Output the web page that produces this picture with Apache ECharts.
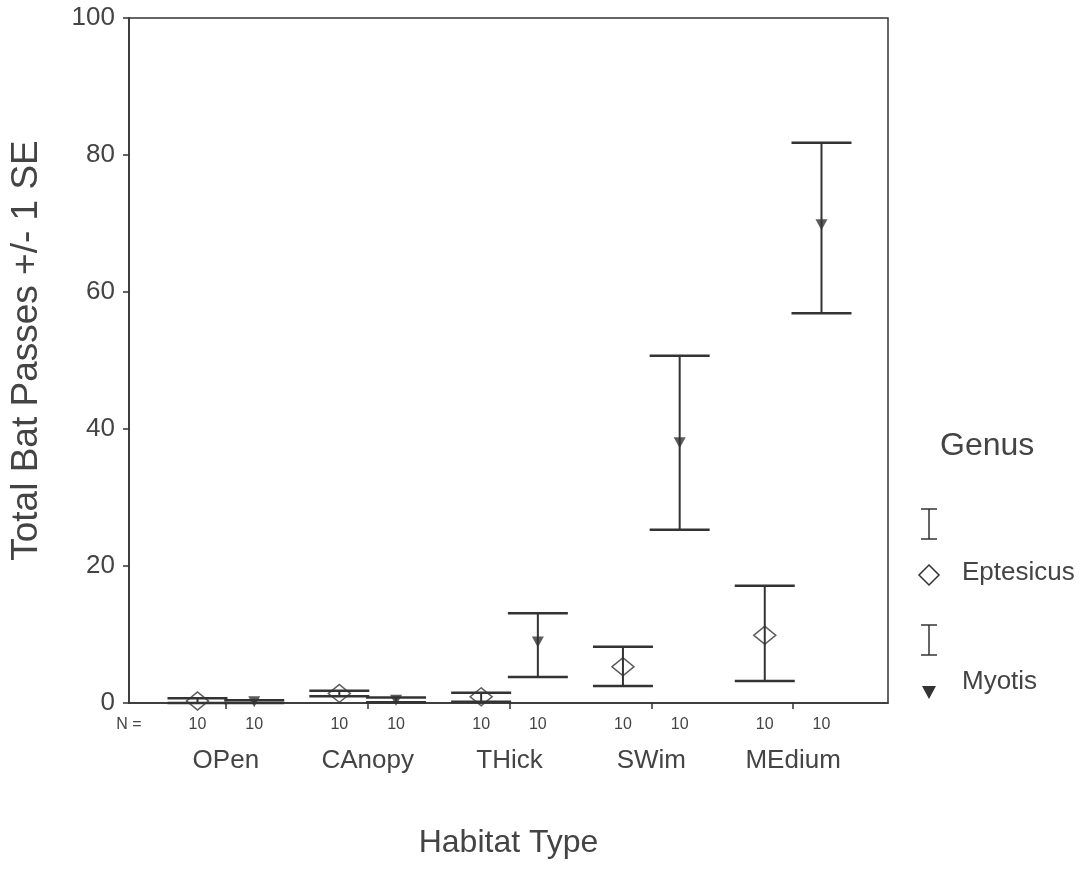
<!DOCTYPE html>
<html>
<head>
<meta charset="utf-8">
<script src="https://cdn.jsdelivr.net/npm/echarts@6/dist/echarts.min.js"></script>
<style>
html,body{margin:0;padding:0;background:#fff;}
#chart{width:1087px;height:869px;}
</style>
</head>
<body>
<div id="chart"></div>
<script>
const categories = ['OPen', 'CAnopy', 'THick', 'SWim', 'MEdium'];
const eptMean = [0.3, 1.4, 0.9, 5.3, 9.9];
const eptLow  = [0.0, 1.0, 0.2, 2.5, 3.2];
const eptHigh = [0.7, 1.8, 1.5, 8.2, 17.1];
const myoMean = [0.2, 0.4, 8.9, 38.0, 69.8];
const myoLow  = [0.0, 0.1, 3.8, 25.3, 56.9];
const myoHigh = [0.4, 0.8, 13.1, 50.7, 81.8];
const nEpt = [10, 10, 10, 10, 10];
const nMyo = [10, 10, 10, 10, 10];
const nLabel = 'N =';
const yTicks = [0, 20, 40, 60, 80, 100];

const FONT = "'Liberation Sans', Arial, sans-serif";
const TXT = '#444';
const LINE = '#333';
const OFF = 0.2;
const XMIN = -0.683, XMAX = 4.669;

const catIdx = categories.map((c, i) => i);
const eptX = catIdx.map(i => i - OFF);
const myoX = catIdx.map(i => i + OFF);

const eptErr = catIdx.map(i => [eptX[i], eptLow[i], eptHigh[i]]);
const myoErr = catIdx.map(i => [myoX[i], myoLow[i], myoHigh[i]]);
const eptPts = catIdx.map(i => [eptX[i], eptMean[i]]);
const myoPts = catIdx.map(i => [myoX[i], myoMean[i]]);

// N labels
const nPos = [XMIN];
const nTxt = [nLabel];
catIdx.forEach(i => { nPos.push(eptX[i]); nTxt.push(String(nEpt[i])); nPos.push(myoX[i]); nTxt.push(String(nMyo[i])); });

function errRender(params, api) {
  const x = api.value(0), lo = api.value(1), hi = api.value(2);
  const pLo = api.coord([x, lo]);
  const pHi = api.coord([x, hi]);
  const hw = 30;
  const s = { stroke: LINE, lineWidth: 2 };
  const c = { stroke: LINE, lineWidth: 2.5 };
  return {
    type: 'group',
    children: [
      { type: 'line', shape: { x1: pHi[0], y1: pHi[1], x2: pLo[0], y2: pLo[1] }, style: s },
      { type: 'line', shape: { x1: pHi[0] - hw, y1: pHi[1], x2: pHi[0] + hw, y2: pHi[1] }, style: c },
      { type: 'line', shape: { x1: pLo[0] - hw, y1: pLo[1], x2: pLo[0] + hw, y2: pLo[1] }, style: c }
    ]
  };
}

const chart = echarts.init(document.getElementById('chart'), null, { renderer: 'canvas' });

const legendStroke = { stroke: LINE, lineWidth: 1.5, fill: null };
const option = {
  backgroundColor: '#fff',
  animation: false,
  textStyle: { fontFamily: FONT },
  grid: { left: 128, right: 199, top: 18, bottom: 166, show: true, borderColor: LINE, borderWidth: 1.5 },
  xAxis: [
    {
      type: 'value', min: XMIN, max: XMAX, position: 'bottom',
      axisLine: { show: true, onZero: false, lineStyle: { color: LINE, width: 1.5 } },
      axisTick: { show: true, customValues: catIdx, length: 6, lineStyle: { color: LINE, width: 1.5 } },
      axisLabel: { customValues: catIdx, formatter: v => categories[Math.round(v)], margin: 45, fontSize: 26, color: TXT, fontFamily: FONT },
      splitLine: { show: false },
      name: 'Habitat Type', nameLocation: 'middle', nameGap: 124,
      nameTextStyle: { fontSize: 32, color: TXT, fontFamily: FONT }
    },
    {
      type: 'value', min: XMIN, max: XMAX, position: 'bottom',
      axisLine: { show: false, onZero: false },
      axisTick: { show: false },
      axisLabel: {
        customValues: nPos,
        formatter: v => { const k = nPos.findIndex(p => Math.abs(p - v) < 1e-6); return k >= 0 ? nTxt[k] : ''; },
        margin: 14, fontSize: 16, color: TXT, fontFamily: FONT
      },
      splitLine: { show: false }
    }
  ],
  yAxis: {
    type: 'value', min: yTicks[0], max: yTicks[yTicks.length - 1], interval: 20, position: 'left',
    axisLine: { show: true, onZero: false, lineStyle: { color: LINE, width: 1.5 } },
    axisTick: { show: true, length: 6, lineStyle: { color: LINE, width: 1.5 } },
    axisLabel: { fontSize: 26, color: TXT, margin: 14, fontFamily: FONT },
    splitLine: { show: false },
    name: 'Total Bat Passes +/- 1 SE', nameLocation: 'middle', nameGap: 84,
    nameTextStyle: { fontSize: 37, color: TXT, fontFamily: FONT, padding: [0, 0, 0, 20] }
  },
  series: [
    { name: 'Eptesicus SE', type: 'custom', renderItem: errRender, data: eptErr, encode: { x: 0, y: [1, 2] }, z: 2 },
    { name: 'Myotis SE', type: 'custom', renderItem: errRender, data: myoErr, encode: { x: 0, y: [1, 2] }, z: 2 },
    {
      name: 'Eptesicus', type: 'scatter', data: eptPts, symbol: 'diamond', symbolSize: [22, 18], clip: false, z: 3,
      itemStyle: { color: 'rgba(0,0,0,0)', borderColor: LINE, borderWidth: 1.5 }
    },
    {
      name: 'Myotis', type: 'scatter', data: myoPts, symbol: 'triangle', symbolRotate: 180, symbolSize: [12, 11], clip: false, z: 3,
      itemStyle: { color: LINE }
    }
  ],
  graphic: [
    { type: 'text', left: 940, top: 430, style: { text: 'Genus', fontSize: 32, fill: TXT, fontFamily: FONT } },
    { type: 'polyline', shape: { points: [[921, 509], [937, 509]] }, style: legendStroke },
    { type: 'polyline', shape: { points: [[929, 509], [929, 539]] }, style: legendStroke },
    { type: 'polyline', shape: { points: [[921, 539], [937, 539]] }, style: legendStroke },
    { type: 'polygon', shape: { points: [[929, 565], [939, 575], [929, 585], [919, 575]] }, style: { stroke: LINE, lineWidth: 1.5, fill: 'rgba(0,0,0,0)' } },
    { type: 'text', left: 962, top: 560, style: { text: 'Eptesicus', fontSize: 26, fill: TXT, fontFamily: FONT } },
    { type: 'polyline', shape: { points: [[921, 625], [937, 625]] }, style: legendStroke },
    { type: 'polyline', shape: { points: [[929, 625], [929, 655]] }, style: legendStroke },
    { type: 'polyline', shape: { points: [[921, 655], [937, 655]] }, style: legendStroke },
    { type: 'polygon', shape: { points: [[922, 686], [936, 686], [929, 699]] }, style: { fill: LINE } },
    { type: 'text', left: 962, top: 669, style: { text: 'Myotis', fontSize: 26, fill: TXT, fontFamily: FONT } }
  ]
};
chart.setOption(option);
</script>
</body>
</html>
